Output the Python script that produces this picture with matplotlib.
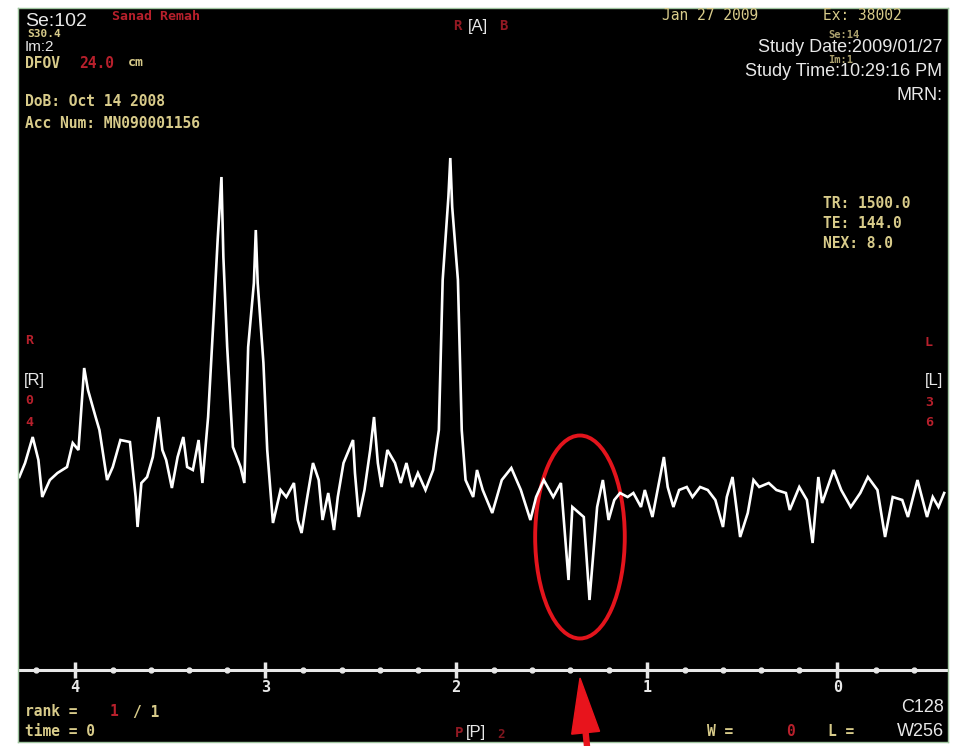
import numpy as np
import matplotlib.pyplot as plt
from matplotlib.patches import Ellipse, FancyArrow
from matplotlib.transforms import IdentityTransform

# Espectro (ppm, intensidad en u.a.)
ppm = [4.29, 4.26, 4.22, 4.19, 4.17, 4.13, 4.09, 4.04, 4.01, 3.98, 3.95, 3.93,
       3.89, 3.87, 3.83, 3.80, 3.76, 3.71, 3.68, 3.67, 3.65, 3.62, 3.59, 3.56,
       3.54, 3.52, 3.49, 3.46, 3.43, 3.41, 3.38, 3.35, 3.33, 3.30, 3.27, 3.25,
       3.23, 3.22, 3.20, 3.17, 3.13, 3.11, 3.09, 3.06, 3.05, 3.04, 3.01, 2.99,
       2.96, 2.92, 2.89, 2.85, 2.83, 2.81, 2.78, 2.75, 2.72, 2.70, 2.67, 2.64,
       2.62, 2.59, 2.54, 2.53, 2.51, 2.48, 2.45, 2.43, 2.41, 2.39, 2.36, 2.32,
       2.29, 2.26, 2.23, 2.20, 2.16, 2.12, 2.09, 2.07, 2.04, 2.03, 2.02, 1.99,
       1.97, 1.95, 1.91, 1.89, 1.86, 1.81, 1.76, 1.71, 1.66, 1.61, 1.58, 1.54,
       1.49, 1.45, 1.41, 1.39, 1.33, 1.30, 1.26,
       1.23, 1.20, 1.17, 1.14, 1.10, 1.07, 1.03, 1.01, 0.97, 0.94, 0.91, 0.89,
       0.86, 0.83, 0.79, 0.76, 0.72, 0.68, 0.64, 0.60, 0.58, 0.55, 0.53, 0.51,
       0.47, 0.44, 0.41, 0.36, 0.32, 0.27, 0.25, 0.20, 0.16, 0.13, 0.10, 0.08,
       0.02, -0.02, -0.07, -0.12, -0.16, -0.21, -0.25, -0.29, -0.34, -0.37,
       -0.42, -0.47, -0.50, -0.53, -0.56]
intensidad = [13, 27, 53, 30, -7, 10, 17, 23, 47, 40, 122, 100,
              73, 60, 10, 23, 50, 48, -7, -37, 7, 13, 33, 73,
              40, 30, 2, 33, 53, 23, 20, 50, 7, 73, 177, 250,
              313, 233, 143, 43, 23, 7, 143, 207, 260, 207, 127, 40,
              -33, 0, -7, 7, -30, -43, -7, 27, 10, -30, -3, -40,
              -7, 27, 50, 17, -27, 0, 40, 73, 27, 3, 40, 27,
              7, 27, 3, 17, 0, 20, 60, 210, 293, 332, 283, 210,
              60, 10, -7, 20, 0, -23, 10, 22, 0, -30, -7, 10,
              -7, 7, -90, -17, -27, -110, -17,
              10, -30, -10, -3, -7, -3, -17, 0, -27, 3, 33, 3,
              -17, 0, 3, -7, 3, 0, -10, -37, -7, 13, -17, -47,
              -23, 10, 3, 7, 0, -3, -20, 3, -10, -53, 13, -13,
              20, 0, -17, -3, 13, 0, -47, -7, -10, -27,
              10, -27, -7, -17, -3]

ticks_mayores = [4, 3, 2, 1, 0]
ticks_menores = [4.2, 3.8, 3.6, 3.4, 3.2, 2.8, 2.6, 2.4, 2.2, 1.8, 1.6, 1.4,
                 1.2, 0.8, 0.6, 0.4, 0.2, -0.2, -0.4]
eje_y = -180

blanco = '#e8e8e8'
amarillo = '#d8cb8a'
rojo = '#b8202c'
mono = 'DejaVu Sans Mono'
arial = 'Liberation Sans'

fig = plt.figure(figsize=(9.59, 7.46), dpi=100, facecolor='white')
ax = fig.add_axes([18 / 959, 4 / 746, 930 / 959, 734 / 746])
ax.set_facecolor('black')
ax.set_xlim(4.297, -0.580)
ax.set_ylim(-252, 482)
ax.set_xticks([])
ax.set_yticks([])
for s in ax.spines.values():
    s.set_color('#9fc49f')
    s.set_linewidth(1)

# Espectro
ax.plot(ppm, intensidad, color='white', lw=1.9, solid_joinstyle='miter')

# Eje de ppm
ax.axhline(eje_y, color=blanco, lw=2.2)
ax.plot(ticks_mayores, [eje_y] * len(ticks_mayores), ls='none', marker='|',
        ms=11, mew=2.5, color=blanco)
ax.plot(ticks_menores, [eje_y] * len(ticks_menores), ls='none', marker='o',
        ms=3.5, color=blanco)
for t in ticks_mayores:
    ax.text(t, eje_y - 18, str(t), color=blanco, fontsize=11, family=mono,
            weight='bold', ha='center', va='center')

# Elipse roja sobre el lactato
ax.add_patch(Ellipse((1.35, -47), 0.47, 203, fill=False, ec='#e3141c', lw=2.8))


def txt(x, y, s, color, size=10.5, family=mono, ha='left', weight='bold', alpha=1):
    fig.text(x, 746 - y, s, color=color, fontsize=size, family=family,
             ha=ha, va='center', weight=weight, alpha=alpha,
             transform=IdentityTransform())


# Esquina superior izquierda
txt(25, 21, 'Se:102', blanco, 14, arial, weight='normal')
txt(112, 16, 'Sanad Remah', rojo, 9.5)
txt(27, 34, 'S30.4', amarillo, 8)
txt(25, 47, 'Im:2', blanco, 11, arial, weight='normal')
txt(25, 63, 'DFOV', amarillo)
txt(79, 63, '24.0', rojo)
txt(128, 63, 'cm', amarillo, 9.5)
txt(25, 102, 'DoB: Oct 14 2008', amarillo)
txt(25, 123, 'Acc Num: MN090001156', amarillo)

# Centro superior
txt(453, 26, 'R', rojo, 10, alpha=0.8)
txt(478, 27, '[A]', blanco, 12, arial, ha='center', weight='normal')
txt(499, 26, 'B', rojo, 10, alpha=0.8)

# Esquina superior derecha
txt(662, 16, 'Jan 27 2009', amarillo, 10.5, weight='normal')
txt(823, 16, 'Ex: 38002', amarillo, 10.5, weight='normal')
txt(828, 35, 'Se:14', amarillo, 7.5, alpha=0.8)
txt(828, 60, 'Im:1', amarillo, 7.5, alpha=0.8)
txt(942, 48, 'Study Date:2009/01/27', blanco, 13, arial, ha='right', weight='normal')
txt(942, 72, 'Study Time:10:29:16 PM', blanco, 13, arial, ha='right', weight='normal')
txt(942, 96, 'MRN:', blanco, 13, arial, ha='right', weight='normal')
txt(823, 203, 'TR: 1500.0', amarillo)
txt(823, 223, 'TE: 144.0', amarillo)
txt(823, 243, 'NEX: 8.0', amarillo)

# Lados
txt(25, 340, 'R', rojo, 9.5)
txt(24, 380, '[R]', blanco, 12, arial, weight='normal')
txt(25, 401, '0', rojo, 9.5)
txt(25, 422, '4', rojo, 9.5)
txt(933, 342, 'L', rojo, 9.5, ha='right')
txt(943, 381, '[L]', blanco, 12, arial, ha='right', weight='normal')
txt(933, 402, '3', rojo, 9.5, ha='right')
txt(933, 422, '6', rojo, 9.5, ha='right')

# Parte inferior
txt(25, 712, 'rank =', amarillo)
txt(110, 712, '1', rojo)
txt(133, 712, '/ 1', amarillo)
txt(25, 732, 'time = 0', amarillo)
txt(455, 733, 'P', rojo, 10, alpha=0.8)
txt(466, 733, '[P]', blanco, 12, arial, weight='normal')
txt(497, 734, '2', rojo, 9, alpha=0.7)
txt(707, 731, 'W =', amarillo)
txt(786, 731, '0', rojo)
txt(828, 731, 'L =', amarillo)
txt(944, 708, 'C128', blanco, 13, arial, ha='right', weight='normal')
txt(944, 731, 'W256', blanco, 13, arial, ha='right', weight='normal')

# Flecha roja
fig.add_artist(FancyArrow(587, 0, -7, 68, width=5, head_width=28, head_length=55,
                          length_includes_head=True, color='#e8141c',
                          transform=IdentityTransform()))

fig.savefig('out.png', dpi=100, facecolor='white')
